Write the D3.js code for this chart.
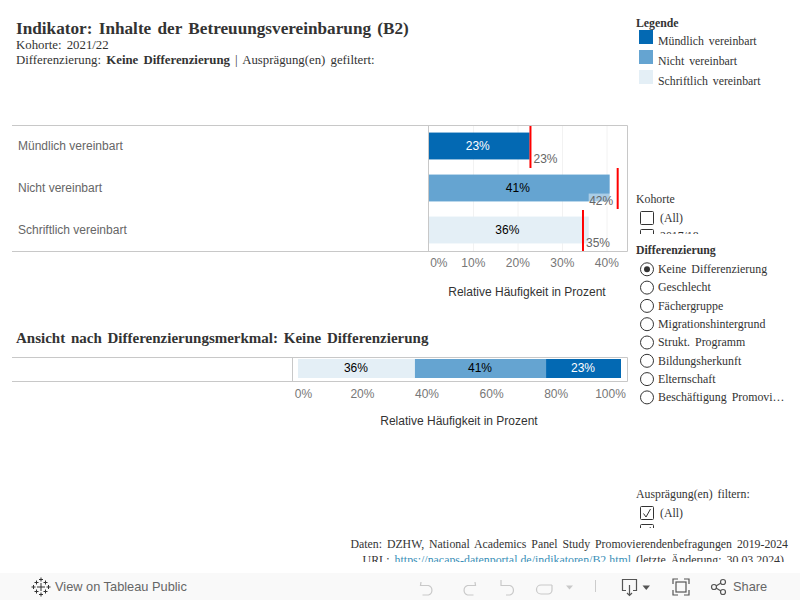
<!DOCTYPE html>
<html>
<head>
<meta charset="utf-8">
<script src="https://d3js.org/d3.v7.min.js"></script>
<style>
  html, body { margin: 0; padding: 0; background: #fff; overflow: hidden; }
  .serif { font-family: "Liberation Serif", serif; word-spacing: 2px; }
  .sans { font-family: "Liberation Sans", Arial, sans-serif; }
  .axis text { font-family: "Liberation Sans", Arial, sans-serif; font-size: 12px; fill: #777; }
</style>
</head>
<body>
<script>
// Chart values
const categories = ["Mündlich vereinbart", "Nicht vereinbart", "Schriftlich vereinbart"];
const barValues = [22.6, 40.6, 35.9];
const barLabels = ["23%", "41%", "36%"];
const referenceValues = [22.8, 42.4, 34.6];
const referenceLabels = ["23%", "42%", "35%"];
const topTicks = [0, 10, 20, 30, 40];

const stackCategories = ["Schriftlich vereinbart", "Nicht vereinbart", "Mündlich vereinbart"];
const stackValues = [36.2, 40.6, 23.2];
const stackLabels = ["36%", "41%", "23%"];
const stackTicks = [0, 20, 40, 60, 80, 100];

const differenzierung = ["Keine Differenzierung", "Geschlecht", "Fächergruppe", "Migrationshintergrund",
    "Strukt. Programm", "Bildungsherkunft", "Elternschaft", "Beschäftigung Promovi…"];

const colour = d3.scaleOrdinal()
    .domain(categories)
    .range(["#0369b3", "#65a4d1", "#e4eff6"]);
const labelColour = {"Mündlich vereinbart": "#fff", "Nicht vereinbart": "#000", "Schriftlich vereinbart": "#000"};

const svg = d3.select("body").append("svg")
    .attr("width", 800)
    .attr("height", 600)
    .style("display", "block");

// Small helper for the many text pieces
function addText(parent, x, y, str, size, cls, fill, weight, anchor) {
    return parent.append("text")
        .attr("x", x)
        .attr("y", y)
        .attr("class", cls)
        .attr("font-size", size)
        .attr("fill", fill)
        .attr("font-weight", weight || "normal")
        .attr("text-anchor", anchor || "start")
        .text(str);
}

// ===== Header =====
addText(svg, 16, 34, "Indikator: Inhalte der Betreuungsvereinbarung (B2)", 17.2, "serif", "#333", "bold");
addText(svg, 16, 49, "Kohorte: 2021/22", 12.8, "serif", "#333");
const sub = addText(svg, 16, 64, "Differenzierung: ", 12.8, "serif", "#333");
sub.append("tspan").attr("font-weight", "bold").text("Keine Differenzierung");
sub.append("tspan").text(" | Ausprägung(en) gefiltert:");

// ===== Top bar chart =====
const x = d3.scaleLinear().domain([0, 40]).range([429, 607]);
const y = d3.scaleBand().domain(categories).range([125, 251]).paddingInner(0.36).paddingOuter(0.18);
const rowH = 42;

// Frame and grid
svg.append("g").selectAll("line")
    .data(topTicks.slice(1))
    .join("line")
    .attr("x1", d => x(d)).attr("x2", d => x(d))
    .attr("y1", 126).attr("y2", 251)
    .attr("stroke", "#f2f2f2");

svg.append("path")
    .attr("d", "M12,125.5H627.5V251.5H12M428.5,125.5V251.5")
    .attr("fill", "none")
    .attr("stroke", "#c8c8c8");

categories.forEach((c, i) => {
    addText(svg, 18, y(c) + y.bandwidth() / 2 + 4, c, 12, "sans", "#666");
});

svg.append("g").selectAll("rect")
    .data(categories)
    .join("rect")
    .attr("x", x(0))
    .attr("y", d => y(d))
    .attr("width", (d, i) => x(barValues[i]) - x(0))
    .attr("height", y.bandwidth())
    .attr("fill", d => colour(d));

svg.append("g").selectAll("text")
    .data(categories)
    .join("text")
    .attr("class", "sans")
    .attr("x", (d, i) => (x(0) + x(barValues[i])) / 2 - 1.5)
    .attr("y", d => y(d) + y.bandwidth() / 2 + 4)
    .attr("text-anchor", "middle")
    .attr("font-size", 12)
    .attr("fill", d => labelColour[d])
    .text((d, i) => barLabels[i]);

// Translucent halo behind the reference labels
svg.append("g").selectAll("rect")
    .data(categories)
    .join("rect")
    .attr("x", (d, i) => x(referenceValues[i]) - 30 + 1)
    .attr("y", d => y(d) + 19)
    .attr("width", (d, i) => i === 1 ? 25 : 0)
    .attr("height", 13)
    .attr("fill", "#fff")
    .attr("fill-opacity", 0.45);

svg.append("g").selectAll("line")
    .data(categories)
    .join("line")
    .attr("x1", (d, i) => x(referenceValues[i]))
    .attr("x2", (d, i) => x(referenceValues[i]))
    .attr("y1", (d, i) => 126 + i * rowH)
    .attr("y2", (d, i) => 126 + (i + 1) * rowH - 1 + (i === 0 ? 1 : 0))
    .attr("stroke", "#f00")
    .attr("stroke-width", 2);

svg.append("g").selectAll("text")
    .data(categories)
    .join("text")
    .attr("class", "sans")
    .attr("x", (d, i) => i === 1 ? x(referenceValues[i]) - 4.5 : x(referenceValues[i]) + 3)
    .attr("y", d => y(d) + 30)
    .attr("text-anchor", (d, i) => i === 1 ? "end" : "start")
    .attr("font-size", 12)
    .attr("fill", "#666")
    .text((d, i) => referenceLabels[i]);

const topAxis = svg.append("g")
    .attr("class", "axis")
    .attr("transform", "translate(0,251)")
    .call(d3.axisBottom(x).tickValues(topTicks).tickFormat(d => d + "%").tickSize(0).tickPadding(7));
topAxis.select(".domain").remove();
topAxis.selectAll("text").attr("dx", -0.7);
topAxis.selectAll("text").filter(d => d === 0).attr("dx", 9.3);

addText(svg, 527, 296, "Relative Häufigkeit in Prozent", 12, "sans", "#333", "normal", "middle");

// ===== Stacked chart =====
addText(svg, 16, 343, "Ansicht nach Differenzierungsmerkmal: Keine Differenzierung", 15, "serif", "#333", "bold");

const sx = d3.scaleLinear().domain([0, 100]).range([298, 621]);
const stack = d3.stack().keys(stackCategories)([
    Object.fromEntries(stackCategories.map((c, i) => [c, stackValues[i]]))
]);

svg.append("path")
    .attr("d", "M12,357.5H627.5V381.5H12M292.5,357.5V381.5")
    .attr("fill", "none")
    .attr("stroke", "#c8c8c8");

svg.append("g").selectAll("rect")
    .data(stack)
    .join("rect")
    .attr("x", d => sx(d[0][0]))
    .attr("y", 359)
    .attr("width", d => sx(d[0][1]) - sx(d[0][0]))
    .attr("height", 19)
    .attr("fill", d => colour(d.key));

svg.append("g").selectAll("text")
    .data(stack)
    .join("text")
    .attr("class", "sans")
    .attr("x", d => (sx(d[0][0]) + sx(d[0][1])) / 2 - 0.5)
    .attr("y", 372)
    .attr("text-anchor", "middle")
    .attr("font-size", 12)
    .attr("fill", d => labelColour[d.key])
    .text((d, i) => stackLabels[i]);

const bottomAxis = svg.append("g")
    .attr("class", "axis")
    .attr("transform", "translate(0,382)")
    .call(d3.axisBottom(sx).tickValues(stackTicks).tickFormat(d => d + "%").tickSize(0).tickPadding(7));
bottomAxis.select(".domain").remove();
bottomAxis.selectAll("text").attr("dx", -0.7);
bottomAxis.selectAll("text").filter(d => d === 0).attr("dx", 5);
bottomAxis.selectAll("text").filter(d => d === 100).attr("dx", -11);

addText(svg, 459, 425, "Relative Häufigkeit in Prozent", 12, "sans", "#333", "normal", "middle");

// ===== Legend =====
addText(svg, 636, 27, "Legende", 11.8, "serif", "#333", "bold");
const legend = svg.append("g").selectAll("g")
    .data(categories)
    .join("g")
    .attr("transform", (d, i) => `translate(639,${30 + i * 20})`);
legend.append("rect").attr("width", 14).attr("height", 14).attr("fill", d => colour(d));
legend.append("text")
    .attr("class", "serif")
    .attr("x", 19)
    .attr("y", 15)
    .attr("font-size", 11.8)
    .attr("fill", "#333")
    .text(d => d);

// ===== Filters =====
const clip = svg.append("defs");
clip.append("clipPath").attr("id", "kohorteClip").append("rect").attr("x", 630).attr("y", 190).attr("width", 170).attr("height", 44);
clip.append("clipPath").attr("id", "auspClip").append("rect").attr("x", 630).attr("y", 485).attr("width", 170).attr("height", 43);
clip.append("clipPath").attr("id", "footClip").append("rect").attr("x", 340).attr("y", 530).attr("width", 460).attr("height", 32);

function checkbox(parent, bx, by, checked) {
    parent.append("rect")
        .attr("x", bx + 0.5).attr("y", by + 0.5)
        .attr("width", 13).attr("height", 13)
        .attr("rx", 1)
        .attr("fill", "#fff")
        .attr("stroke", "#333");
    if (checked) {
        parent.append("path")
            .attr("d", `M${bx + 3.5},${by + 7.5}l2.5,3.5l4.5,-8`)
            .attr("fill", "none")
            .attr("stroke", "#333");
    }
}

addText(svg, 636, 203, "Kohorte", 11.8, "serif", "#333");
const kohorte = svg.append("g").attr("clip-path", "url(#kohorteClip)");
checkbox(kohorte, 640, 211, false);
addText(kohorte, 660, 222, "(All)", 11.8, "serif", "#333");
checkbox(kohorte, 640, 229, false);
addText(kohorte, 660, 240, "2017/18", 11.8, "serif", "#333");

addText(svg, 636, 254, "Differenzierung", 11.8, "serif", "#333", "bold");
const radios = svg.append("g").selectAll("g")
    .data(differenzierung)
    .join("g")
    .attr("transform", (d, i) => `translate(647,${269.3 + i * 18.3})`);
radios.append("circle").attr("r", 6.5).attr("fill", "#fff").attr("stroke", "#333");
radios.filter((d, i) => i === 0).append("circle").attr("r", 3).attr("fill", "#333");
radios.append("text")
    .attr("class", "serif")
    .attr("x", 11)
    .attr("y", 3.7)
    .attr("font-size", 11.9)
    .attr("fill", "#333")
    .text(d => d);

addText(svg, 636, 498, "Ausprägung(en) filtern:", 11.8, "serif", "#333");
const ausp = svg.append("g").attr("clip-path", "url(#auspClip)");
checkbox(ausp, 640, 506, true);
addText(ausp, 660, 517, "(All)", 11.8, "serif", "#333");
checkbox(ausp, 640, 524, true);

// ===== Source lines =====
const foot = svg.append("g").attr("clip-path", "url(#footClip)");
addText(foot, 788, 547.5, "Daten: DZHW, National Academics Panel Study Promovierendenbefragungen 2019-2024", 11.8, "serif", "#333", "normal", "end");
const url = addText(foot, 784, 563.5, "URL: ", 11.9, "serif", "#333", "normal", "end");
url.append("tspan").attr("fill", "#3a8fb7").attr("text-decoration", "underline").text("https://nacaps-datenportal.de/indikatoren/B2.html");
url.append("tspan").text(" (letzte Änderung: 30.03.2024)");

// ===== Toolbar =====
const bar = svg.append("g");
bar.append("rect").attr("x", 0).attr("y", 573).attr("width", 800).attr("height", 27).attr("fill", "#f9f9f9");

// Tableau logo built from little crosses
const logo = bar.append("g").attr("stroke", "#333").attr("fill", "none");
[[41, 587, 4], [33.5, 587, 2], [48.5, 587, 2], [41, 579.5, 2], [41, 594.5, 2], [36.5, 582.5, 2], [45.5, 582.5, 2], [36.5, 591.5, 2], [45.5, 591.5, 2]]
    .forEach(c => logo.append("path").attr("d", `M${c[0] - c[2]},${c[1]}h${c[2] * 2}M${c[0]},${c[1] - c[2]}v${c[2] * 2}`));
addText(bar, 55, 591, "View on Tableau Public", 12.8, "sans", "#666").attr("font-weight", 500);

const iconOff = bar.append("g").attr("fill", "none").attr("stroke", "#c9c9c9").attr("stroke-width", 1.2);
iconOff.append("path").attr("d", "M421,582l-0.5,3.5h8a5,5 0 0 1 0,9.5h-6");
iconOff.append("path").attr("d", "M475,582l0.5,3.5h-8a5,5 0 0 0 0,9.5h6");
iconOff.append("path").attr("d", "M501,580v6M501,585.5h9a5,5 0 0 1 0,9.5h-4");
iconOff.append("path").attr("d", "M552,585h-11a4,4 0 0 0 0,9h7a4,4 0 0 0 4,-4v-5");
bar.append("path").attr("d", "M566,585.5h7l-3.5,4z").attr("fill", "#c9c9c9");
bar.append("line").attr("x1", 595.5).attr("x2", 595.5).attr("y1", 580).attr("y2", 592).attr("stroke", "#ccc");

const iconOn = bar.append("g").attr("fill", "none").attr("stroke", "#555").attr("stroke-width", 1.2);
iconOn.append("path").attr("d", "M626,590.5h-3.5v-11h14v11h-3.5M629.5,585v10M627,593l2.5,2.5l2.5,-2.5");
bar.append("path").attr("d", "M642.5,585.5h7.5l-3.75,4.5z").attr("fill", "#555");
iconOn.append("path").attr("d", "M673,584v-5h5M684,579h5v5M689,590v5h-5M678,595h-5v-5");
iconOn.append("rect").attr("x", 676).attr("y", 582).attr("width", 10).attr("height", 10);
iconOn.append("circle").attr("cx", 714).attr("cy", 587).attr("r", 2.5);
iconOn.append("circle").attr("cx", 723).attr("cy", 582).attr("r", 2.5);
iconOn.append("circle").attr("cx", 723).attr("cy", 592).attr("r", 2.5);
iconOn.append("path").attr("d", "M716,586l5,-3M716,588l5,3");
addText(bar, 733, 591, "Share", 12.8, "sans", "#666").attr("font-weight", 500);
</script>
</body>
</html>
